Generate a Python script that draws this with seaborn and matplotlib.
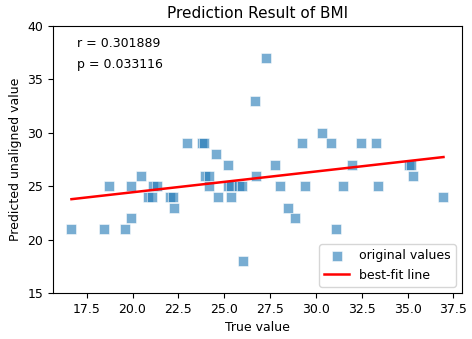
import seaborn as sns
import matplotlib.pyplot as plt
import pandas as pd
import numpy as np

# Values
true_value = [16.67, 18.44, 18.74, 19.59, 19.93, 19.93, 20.46, 20.83, 21.08, 21.12,
              21.35, 22.07, 22.22, 22.26, 22.99, 23.81, 23.92, 23.97, 24.19, 24.19,
              24.54, 24.65, 25.19, 25.19, 25.38, 25.38, 25.81, 25.96, 26.0, 26.67,
              26.76, 27.28, 27.79, 28.02, 28.47, 28.85, 29.27, 29.41, 30.31, 30.83,
              31.12, 31.46, 31.99, 32.47, 33.28, 33.41, 35.1, 35.2, 35.3, 36.96]
predicted = [21, 21, 25, 21, 22, 25, 26, 24, 24, 25,
             25, 24, 24, 23, 29, 29, 29, 26, 26, 25,
             28, 24, 27, 25, 25, 24, 25, 25, 18, 33,
             26, 37, 27, 25, 23, 22, 29, 25, 30, 29,
             21, 25, 27, 29, 29, 25, 27, 27, 26, 24]
r_text = 'r = 0.301889'
p_text = 'p = 0.033116'

data = pd.DataFrame({'True value': true_value, 'Predicted': predicted})

# Best-fit line from the data
slope, intercept = np.polyfit(data['True value'], data['Predicted'], 1)
fit_x = np.array([min(true_value), max(true_value)])
fit = pd.DataFrame({'x': fit_x, 'y': slope * fit_x + intercept})

fig = plt.figure(figsize=(4.72, 3.39), dpi=100)
ax = fig.add_axes([0.112, 0.136, 0.867, 0.787])

sns.scatterplot(x='True value', y='Predicted', data=data, marker='s', s=55,
                color='#1f77b4', alpha=0.6, edgecolor='white', linewidth=0.6,
                label='original values', ax=ax)
sns.lineplot(x='x', y='y', data=fit, color='red', linewidth=1.8,
             label='best-fit line', ax=ax)

ax.set_ylim(15, 40)
ax.set_xticks(np.arange(17.5, 37.6, 2.5))
ax.set_title('Prediction Result of BMI', fontsize=11)
ax.set_xlabel('True value', fontsize=9)
ax.set_ylabel('Predicted unaligned value', fontsize=9)
ax.tick_params(labelsize=9)

ax.text(0.06, 0.935, r_text, transform=ax.transAxes, fontsize=9, va='center')
ax.text(0.06, 0.855, p_text, transform=ax.transAxes, fontsize=9, va='center')

ax.legend(loc='lower right', fontsize=9)

plt.savefig('out.png', dpi=100)
